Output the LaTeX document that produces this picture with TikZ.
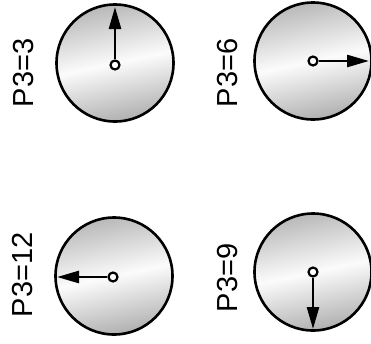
\documentclass[tikz,border=0pt]{standalone}
\usepackage{fontspec}
\setmainfont{Liberation Sans}
\usetikzlibrary{arrows.meta}
\begin{document}
\begin{tikzpicture}[x=1pt,y=-1pt,
  dial/.style={circle, draw=black, line width=2.6pt, minimum size=117pt, inner sep=0pt,
    top color=gray!55, bottom color=gray!62, middle color=white!97!gray, shading angle=12},
  hub/.style={circle, draw=black, line width=2.2pt, fill=white, minimum size=9pt, inner sep=0pt},
  hand/.style={line width=2.6pt, -{Triangle[length=22pt,width=12pt]}},
  lbl/.style={rotate=90, font=\fontsize{29}{32}\selectfont, inner sep=0pt}
]
\useasboundingbox (0,0) rectangle (371,343);
% dial 1
\node[dial] (d1) at (115,63) {};
\node[hub] (h1) at (115,65) {};
\coordinate (t1) at (115,7);
\draw[hand] (h1) -- (t1);
\node[lbl] (l1) at (24,73) {P3=3};
% dial 2
\node[dial] (d2) at (313,61) {};
\node[hub] (h2) at (313,61) {};
\coordinate (t2) at (369,61);
\draw[hand] (h2) -- (t2);
\node[lbl] (l2) at (228,73) {P3=6};
% dial 3
\node[dial] (d3) at (114,276) {};
\node[hub] (h3) at (113,277) {};
\coordinate (t3) at (57,277);
\draw[hand] (h3) -- (t3);
\node[lbl] (l3) at (23,275) {P3=12};
% dial 4
\node[dial] (d4) at (313,272) {};
\node[hub] (h4) at (313,272) {};
\coordinate (t4) at (313,329);
\draw[hand] (h4) -- (t4);
\node[lbl] (l4) at (228,278) {P3=9};
\end{tikzpicture}
\end{document}
